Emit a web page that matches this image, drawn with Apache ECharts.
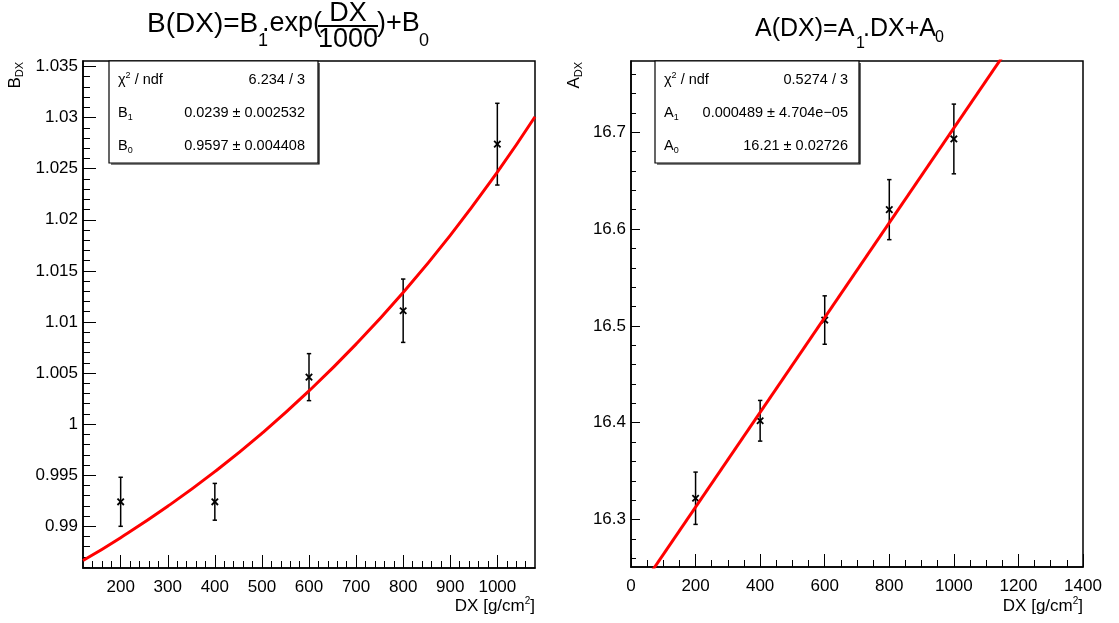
<!DOCTYPE html>
<html>
<head>
<meta charset="utf-8">
<script src="https://cdn.jsdelivr.net/npm/echarts@6/dist/echarts.min.js"></script>
<style>
html,body{margin:0;padding:0;background:#fff;}
#c{width:1119px;height:623px;}
</style>
</head>
<body>
<div id="c"></div>
<script>
// ---- data ----
const bDX   = [200, 400, 600, 800, 1000];
const bVal  = [0.9924, 0.9924, 1.0046, 1.0111, 1.0274];
const bErr  = [0.0024, 0.0018, 0.0023, 0.0031, 0.0040];
const bFitX = [120, 200, 300, 400, 500, 600, 700, 800, 900, 1000, 1080];
const bFitY = [0.98665, 0.98889, 0.99196, 0.99535, 0.99910, 1.00325, 1.00783, 1.01289, 1.01848, 1.02467, 1.03008];

const aDX   = [200, 400, 600, 800, 1000];
const aVal  = [16.322, 16.402, 16.506, 16.620, 16.693];
const aErr  = [0.027, 0.021, 0.025, 0.031, 0.036];
const aFitX = [0, 1400];
const aFitY = [16.215, 16.900];

// tick labels
const bXTicks = [200, 300, 400, 500, 600, 700, 800, 900, 1000];
const bYTicks = [0.99, 0.995, 1, 1.005, 1.01, 1.015, 1.02, 1.025, 1.03, 1.035];
const aXTicks = [0, 200, 400, 600, 800, 1000, 1200, 1400];
const aYTicks = [16.3, 16.4, 16.5, 16.6, 16.7];

// axis ranges
const bXRange = [120, 1080];
const bYRange = [0.98592, 1.03554];
const aXRange = [0, 1400];
const aYRange = [16.251, 16.7735];

const FONT = '"Liberation Sans", Arial, Helvetica, sans-serif';

function minorTicks(from, to, step) {
  const out = [];
  for (let v = from; v <= to + 1e-9; v += step) out.push(Math.round(v * 1e6) / 1e6);
  return out;
}
const fmt = v => String(+(+v).toFixed(6));

function axisPair(kind, grid, range, major, minor, majLen, minLen, margin) {
  const pos = kind === 'x' ? 'bottom' : 'left';
  return [
    {
      type: 'value', gridIndex: grid, min: range[0], max: range[1], position: pos,
      axisLine: { show: true, onZero: false, lineStyle: { color: '#000', width: 1.5 } },
      axisTick: { show: true, inside: true, length: majLen, customValues: major, lineStyle: { color: '#000', width: 1 } },
      axisLabel: { show: true, customValues: major, formatter: fmt, margin: margin, fontSize: 17, color: '#000', fontFamily: FONT },
      splitLine: { show: false }
    },
    {
      type: 'value', gridIndex: grid, min: range[0], max: range[1], position: pos,
      axisLine: { show: false, onZero: false },
      axisTick: { show: true, inside: true, length: minLen, customValues: minor, lineStyle: { color: '#000', width: 1 } },
      axisLabel: { show: false },
      splitLine: { show: false }
    }
  ];
}

function errRender(params, api) {
  const x = api.value(0), y = api.value(1), e = api.value(2);
  const p = api.coord([x, y]);
  const t = api.coord([x, y + e]);
  const b = api.coord([x, y - e]);
  const c = 2.2, s = 3.2;
  const st = { stroke: '#000', lineWidth: 1.5 };
  return {
    type: 'group',
    children: [
      { type: 'line', shape: { x1: p[0], y1: t[1], x2: p[0], y2: b[1] }, style: st },
      { type: 'line', shape: { x1: p[0] - c, y1: t[1], x2: p[0] + c, y2: t[1] }, style: st },
      { type: 'line', shape: { x1: p[0] - c, y1: b[1], x2: p[0] + c, y2: b[1] }, style: st },
      { type: 'line', shape: { x1: p[0] - s, y1: p[1] - s, x2: p[0] + s, y2: p[1] + s }, style: { stroke: '#000', lineWidth: 1.8 } },
      { type: 'line', shape: { x1: p[0] - s, y1: p[1] + s, x2: p[0] + s, y2: p[1] - s }, style: { stroke: '#000', lineWidth: 1.8 } }
    ]
  };
}

const xAxes = [].concat(
  axisPair('x', 0, bXRange, bXTicks, minorTicks(140, 1060, 20), 13, 7, 11),
  axisPair('x', 1, aXRange, aXTicks, minorTicks(0, 1400, 50), 13, 7, 11)
);
const yAxes = [].concat(
  axisPair('y', 0, bYRange, bYTicks, minorTicks(0.986, 1.035, 0.001), 13, 7, 5),
  axisPair('y', 1, aYRange, aYTicks, minorTicks(16.26, 16.76, 0.02), 9, 5, 5)
);

function txt(x, y, text, size, extra) {
  return {
    type: 'text', x: x, y: y, z: 100,
    style: Object.assign({ text: text, fontSize: size, fontFamily: FONT, fill: '#000', align: 'left', verticalAlign: 'middle' }, extra || {})
  };
}

const supRich = { s: { fontSize: 10, verticalAlign: 'top', fontFamily: FONT, fill: '#000' }, n: { fontSize: 17, fontFamily: FONT, fill: '#000', lineHeight: 20 } };

function statBox(x0, y0, x1, y1, rows, lx, rx) {
  const els = [
    { type: 'rect', z: 90, shape: { x: x0, y: y0, width: x1 - x0, height: y1 - y0 }, style: { fill: '#fff', stroke: '#000', lineWidth: 1.2 } },
    { type: 'polyline', z: 91, shape: { points: [[x1 + 1, y0 + 2], [x1 + 1, y1 + 1], [x0 + 2, y1 + 1]] }, style: { fill: null, stroke: '#000', lineWidth: 1.2 } }
  ];
  rows.forEach(r => {
    els.push({ type: 'text', x: lx, y: r.y, z: 100, style: { text: r.l, fontSize: 14.5, fontFamily: FONT, fill: '#000', align: 'left', verticalAlign: 'middle',
      rich: { p: { fontSize: 9, verticalAlign: 'top', fontFamily: FONT, fill: '#000' }, b: { fontSize: 9, verticalAlign: 'bottom', fontFamily: FONT, fill: '#000' }, m: { fontSize: 14.5, lineHeight: 18, fontFamily: FONT, fill: '#000' } } } });
    els.push({ type: 'text', x: rx, y: r.y, z: 100, style: { text: r.r, fontSize: 14.5, fontFamily: FONT, fill: '#000', align: 'right', verticalAlign: 'middle' } });
  });
  return els;
}

const graphics = [].concat(
  // left title
  [
    txt(147, 24, 'B(DX)=B', 28),
    txt(258, 41, '1', 18),
    txt(262, 24, '.exp(', 27),
    txt(348, 14, 'DX', 27, { align: 'center' }),
    { type: 'line', z: 100, shape: { x1: 318, y1: 26, x2: 378, y2: 26 }, style: { stroke: '#000', lineWidth: 2 } },
    txt(348, 40, '1000', 27, { align: 'center' }),
    txt(377, 24, ')+B', 27),
    txt(419, 41, '0', 18),
    // right title
    txt(755, 29, 'A(DX)=A', 25),
    txt(856, 44, '1', 16),
    txt(863, 29, '.DX+A', 25),
    txt(935, 38, '0', 16),
    // x axis titles
    { type: 'text', x: 535, y: 606, z: 100, style: { text: '{n|DX [g/cm}{s|2}{n|]}', align: 'right', verticalAlign: 'middle', rich: supRich } },
    { type: 'text', x: 1083, y: 606, z: 100, style: { text: '{n|DX [g/cm}{s|2}{n|]}', align: 'right', verticalAlign: 'middle', rich: supRich } },
    // y axis titles
    { type: 'text', x: 15, y: 62, rotation: Math.PI / 2, z: 100, style: { text: '{n|B}{d|DX}', align: 'right', verticalAlign: 'middle',
      rich: { n: { fontSize: 17, lineHeight: 20, fontFamily: FONT, fill: '#000' }, d: { fontSize: 11, verticalAlign: 'bottom', fontFamily: FONT, fill: '#000' } } } },
    { type: 'text', x: 574, y: 62, rotation: Math.PI / 2, z: 100, style: { text: '{n|A}{d|DX}', align: 'right', verticalAlign: 'middle',
      rich: { n: { fontSize: 17, lineHeight: 20, fontFamily: FONT, fill: '#000' }, d: { fontSize: 11, verticalAlign: 'bottom', fontFamily: FONT, fill: '#000' } } } }
  ],
  statBox(109, 61, 318, 163, [
    { y: 80, l: '{m|χ}{p|2}{m| / ndf}', r: '6.234 / 3' },
    { y: 113, l: '{m|B}{b|1}', r: '0.0239 ± 0.002532' },
    { y: 146, l: '{m|B}{b|0}', r: '0.9597 ± 0.004408' }
  ], 118, 305),
  statBox(655, 61, 859, 163, [
    { y: 80, l: '{m|χ}{p|2}{m| / ndf}', r: '0.5274 / 3' },
    { y: 113, l: '{m|A}{b|1}', r: '0.000489 ± 4.704e−05' },
    { y: 146, l: '{m|A}{b|0}', r: '16.21 ± 0.02726' }
  ], 664, 848)
);

const chart = echarts.init(document.getElementById('c'), null, { renderer: 'canvas' });
chart.setOption({
  animation: false,
  backgroundColor: '#fff',
  grid: [
    { left: 83, top: 61, width: 452, height: 507, show: true, borderColor: '#000', borderWidth: 1.5, backgroundColor: 'transparent' },
    { left: 631, top: 61, width: 452, height: 506, show: true, borderColor: '#000', borderWidth: 1.5, backgroundColor: 'transparent' }
  ],
  xAxis: xAxes,
  yAxis: yAxes,
  series: [
    { type: 'custom', xAxisIndex: 0, yAxisIndex: 0, renderItem: errRender, clip: true, z: 3,
      encode: { x: 0, y: 1 }, data: bDX.map((x, i) => [x, bVal[i], bErr[i]]) },
    { type: 'line', xAxisIndex: 0, yAxisIndex: 0, smooth: true, showSymbol: false, symbol: 'none', clip: true, z: 5,
      lineStyle: { color: '#ff0000', width: 3 }, data: bFitX.map((x, i) => [x, bFitY[i]]) },
    { type: 'custom', xAxisIndex: 2, yAxisIndex: 2, renderItem: errRender, clip: true, z: 3,
      encode: { x: 0, y: 1 }, data: aDX.map((x, i) => [x, aVal[i], aErr[i]]) },
    { type: 'line', xAxisIndex: 2, yAxisIndex: 2, showSymbol: false, symbol: 'none', clip: true, z: 5,
      lineStyle: { color: '#ff0000', width: 3 }, data: aFitX.map((x, i) => [x, aFitY[i]]) }
  ],
  graphic: graphics
});
</script>
</body>
</html>
